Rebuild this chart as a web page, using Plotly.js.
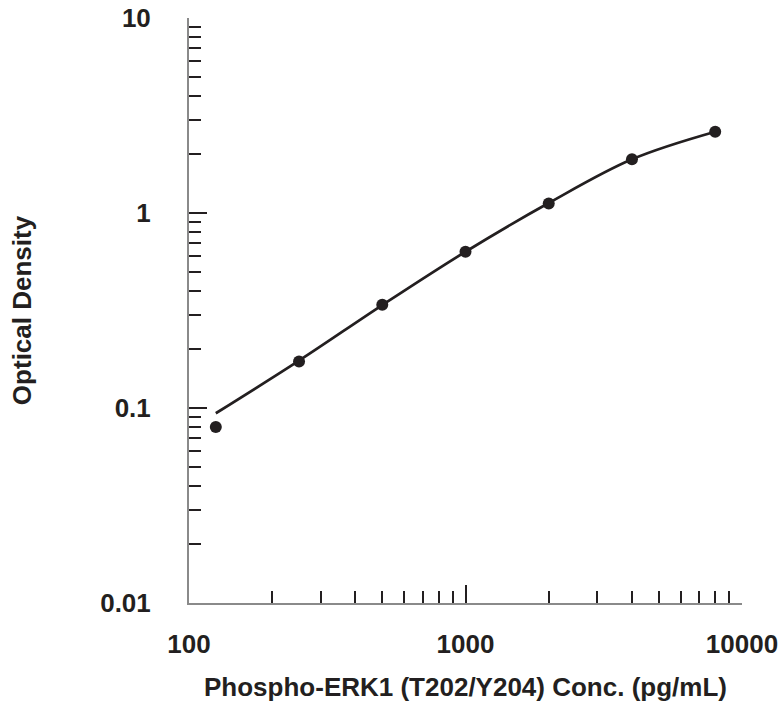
<!DOCTYPE html>
<html>
<head>
<meta charset="utf-8">
<script src="https://cdn.plot.ly/plotly-3.0.1.min.js"></script>
<style>html,body{margin:0;padding:0;background:#fff;overflow:hidden;}#chart{width:781px;height:702px;}</style>
</head>
<body>
<div id="chart"></div>
<script>
// Standard points (concentration pg/mL, optical density)
var concentration = [125, 250, 500, 1000, 2000, 4000, 8000];
var opticalDensity = [0.080, 0.173, 0.338, 0.633, 1.12, 1.885, 2.61];
// Fitted curve
var curveConc = [125, 250, 500, 1000, 2000, 4000, 8000];
var curveOD = [0.094, 0.175, 0.337, 0.633, 1.125, 1.885, 2.61];
// Tick values
var xMajorTicks = [100, 1000, 10000];
var xMajorLabels = ['100', '1000', '10000'];
var yMajorTicks = [0.01, 0.1, 1, 10];
var yMajorLabels = ['0.01', '0.1', '1', '10'];
var xMinorTicks = [200,300,400,500,600,700,800,900,2000,3000,4000,5000,6000,7000,8000,9000];
var yMinorTicks = [0.02,0.03,0.04,0.05,0.06,0.07,0.08,0.09,0.2,0.3,0.4,0.5,0.6,0.7,0.8,0.9,2,3,4,5,6,7,8,9];

var ink = '#231f20';
var fam = 'Liberation Sans, Arial, sans-serif';
var txt = {family: fam, size: 26, color: ink, weight: 'bold'};

var traces = [
  {x: curveConc, y: curveOD, mode: 'lines', line: {color: ink, width: 2.7, shape: 'spline'}, hoverinfo: 'skip', showlegend: false},
  {x: concentration, y: opticalDensity, mode: 'markers', marker: {color: ink, size: 12}, showlegend: false},
  {x: [100], y: [0.01], xaxis: 'x2', yaxis: 'y2', mode: 'markers', marker: {opacity: 0}, hoverinfo: 'skip', showlegend: false}
];

var layout = {
  width: 781, height: 702,
  margin: {l: 189, r: 39, t: 18, b: 99},
  paper_bgcolor: '#fff', plot_bgcolor: '#fff',
  font: {family: fam, color: ink},
  showlegend: false,
  xaxis: {
    type: 'log', range: [2, 4], showgrid: false, zeroline: false,
    showline: true, linecolor: '#8a8a8a', linewidth: 2,
    ticks: 'inside', ticklen: 18, tickwidth: 2, tickcolor: ink,
    tickvals: xMajorTicks, ticktext: xMajorLabels,
    ticklabelstandoff: 17,
    tickfont: txt,
    title: {text: 'Phospho-ERK1 (T202/Y204) Conc. (pg/mL)', standoff: 20, font: txt}
  },
  xaxis2: {
    type: 'log', range: [2, 4], overlaying: 'x', anchor: 'y', showgrid: false, zeroline: false,
    showline: false, ticks: 'inside', ticklen: 12, tickwidth: 2, tickcolor: ink,
    tickvals: xMinorTicks, showticklabels: false, side: 'bottom'
  },
  yaxis: {
    type: 'log', range: [-2, 1], showgrid: false, zeroline: false,
    showline: true, linecolor: '#8a8a8a', linewidth: 2,
    ticks: 'inside', ticklen: 18, tickwidth: 2, tickcolor: ink,
    tickvals: yMajorTicks, ticktext: yMajorLabels,
    ticklabelstandoff: 31,
    tickfont: txt,
    title: {text: 'Optical Density', standoff: 61, font: txt}
  },
  yaxis2: {
    type: 'log', range: [-2, 1], overlaying: 'y', anchor: 'x', showgrid: false, zeroline: false,
    showline: false, ticks: 'inside', ticklen: 12, tickwidth: 2, tickcolor: ink,
    tickvals: yMinorTicks, showticklabels: false, side: 'left'
  }
};

Plotly.newPlot('chart', traces, layout, {displayModeBar: false, staticPlot: true});
</script>
</body>
</html>
